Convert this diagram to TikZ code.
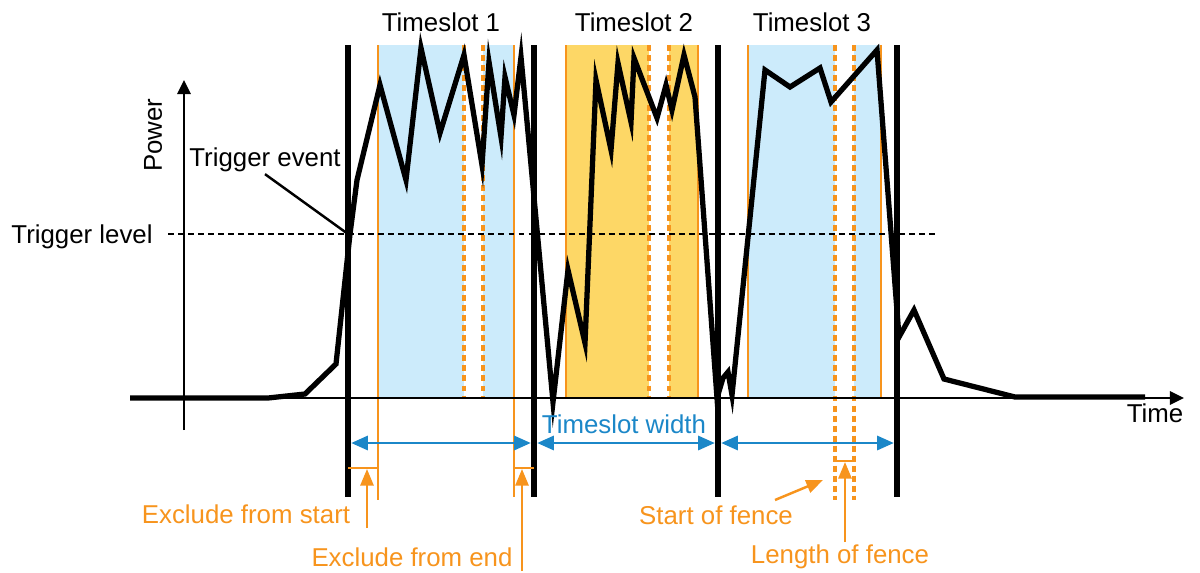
\documentclass[tikz,border=0pt]{standalone}
\usepackage{fontspec}
\setmainfont{Liberation Sans}
\usetikzlibrary{arrows.meta}

\definecolor{fenceorange}{HTML}{F7941D}
\definecolor{slotblue}{HTML}{CCEBFB}
\definecolor{slotyellow}{HTML}{FDD766}
\definecolor{widthblue}{HTML}{1B87C8}

\begin{document}
\begin{tikzpicture}[x=0.02cm, y=-0.02cm, font=\fontsize{14.7}{17}\selectfont,
    boundary/.style={line width=3.4pt},
    signal/.style={line width=3pt, line join=miter},
    edgeline/.style={fenceorange, line width=1.3pt},
    fenceline/.style={fenceorange, line width=2pt, dash pattern=on 3.4pt off 2.3pt},
    axis/.style={line width=1.4pt, -{Triangle[length=8pt, width=7.5pt]}},
    widtharrow/.style={widthblue, line width=1.6pt, {Triangle[length=9.5pt, width=8pt]}-{Triangle[length=9.5pt, width=8pt]}, shorten <=1.8pt, shorten >=1.8pt},
    notearrow/.style={fenceorange, line width=1.4pt, -{Triangle[length=9.5pt, width=7.5pt]}}]
  \useasboundingbox (0,0) rectangle (1200,572);

  % Define the timeslot boundaries
  \coordinate (b1) at (348,443);
  \coordinate (b2) at (534,443);
  \coordinate (b3) at (718,443);
  \coordinate (b4) at (897,443);
  \coordinate (trig) at (348,234);

  % Fill the timeslots, leaving the fences out
  \fill[slotblue] (378,45) rectangle (464,398);
  \fill[slotblue] (483,45) rectangle (514,398);
  \fill[slotyellow] (566,45) rectangle (649,398);
  \fill[slotyellow] (669,45) rectangle (698,398);
  \fill[slotblue] (748,45) rectangle (835,398);
  \fill[slotblue] (854,45) rectangle (881,398);

  % Draw the excluded parts and the fences
  \draw[edgeline] (378,45) -- (378,500);
  \draw[edgeline] (514,45) -- (514,497);
  \draw[edgeline] (566,45) -- (566,398);
  \draw[edgeline] (698,45) -- (698,398);
  \draw[edgeline] (748,45) -- (748,398);
  \draw[edgeline] (881,45) -- (881,398);
  \draw[fenceline] (464,45) -- (464,398);
  \draw[fenceline] (483,45) -- (483,398);
  \draw[fenceline] (649,45) -- (649,398);
  \draw[fenceline] (669,45) -- (669,398);
  \draw[fenceline] (835,45) -- (835,500);
  \draw[fenceline] (854,45) -- (854,500);

  % Draw the axes and the trigger level
  \draw[line width=1.3pt, dash pattern=on 3.4pt off 2.3pt] (168,234) -- (935,234);
  \draw[axis] (130,398) -- (1184,398);
  \draw[axis] (184,430) -- (184,80);

  % Draw the boundaries and the signal
  \foreach \x in {348,534,718,897}
    \draw[boundary] (\x,45) -- (\x,497);
  \draw[signal] (130,398) -- (268,398) -- (305,394) -- (336,364) -- (350,234) -- (357,180)
    -- (380,85) -- (406,180) -- (421,48) -- (440,133) -- (464,55) -- (482,165) -- (489,62)
    -- (501,137) -- (505,77) -- (514,115) -- (521,57) -- (553,402) -- (568,270) -- (585,343)
    -- (596,80) -- (611,150) -- (618,63) -- (631,122) -- (634,58) -- (657,118) -- (666,85)
    -- (672,110) -- (684,55) -- (695,97) -- (717,398) -- (723,378) -- (728,372) -- (732,395)
    -- (765,70) -- (790,87) -- (820,68) -- (831,102) -- (877,50) -- (899,337) -- (914,310)
    -- (944,379) -- (1015,397) -- (1145,397);

  % Label the picture
  \node (ts1) at (441,22) {Timeslot 1};
  \node (ts2) at (634,22) {Timeslot 2};
  \node (ts3) at (812,22) {Timeslot 3};
  \node[rotate=90] (power) at (153,135) {Power};
  \node (time) at (1155,413) {Time};
  \node (level) at (82,237) {Trigger level};
  \node[inner sep=1pt] (event) at (265,160) {Trigger event};
  \draw[line width=1.4pt] (event.south) -- (trig);

  % Timeslot width
  \draw[widtharrow] (b1) -- (b2);
  \draw[widtharrow] (b2) -- (b3);
  \draw[widtharrow] (b3) -- (b4);
  \node[widthblue] (width) at (624,424) {Timeslot width};

  % Exclude from start and end
  \draw[edgeline] (348,468) -- (378,468);
  \draw[edgeline] (514,468) -- (534,468);
  \coordinate (exstart) at (367,528);
  \coordinate (exend) at (522,571);
  \draw[notearrow] (exstart) -- (367,469);
  \draw[notearrow] (exend) -- (522,469);
  \node[fenceorange] (exs) at (246,514) {Exclude from start};
  \node[fenceorange] (exe) at (412,557) {Exclude from end};

  % Start and length of fence
  \draw[edgeline] (835,461) -- (854,461);
  \coordinate (fstart) at (775,500);
  \coordinate (flen) at (845,542);
  \draw[notearrow] (fstart) -- (823,480);
  \draw[notearrow] (flen) -- (845,462);
  \node[fenceorange] (fs) at (716,515) {Start of fence};
  \node[fenceorange] (fl) at (840,557) {Length of fence};
\end{tikzpicture}
\end{document}
